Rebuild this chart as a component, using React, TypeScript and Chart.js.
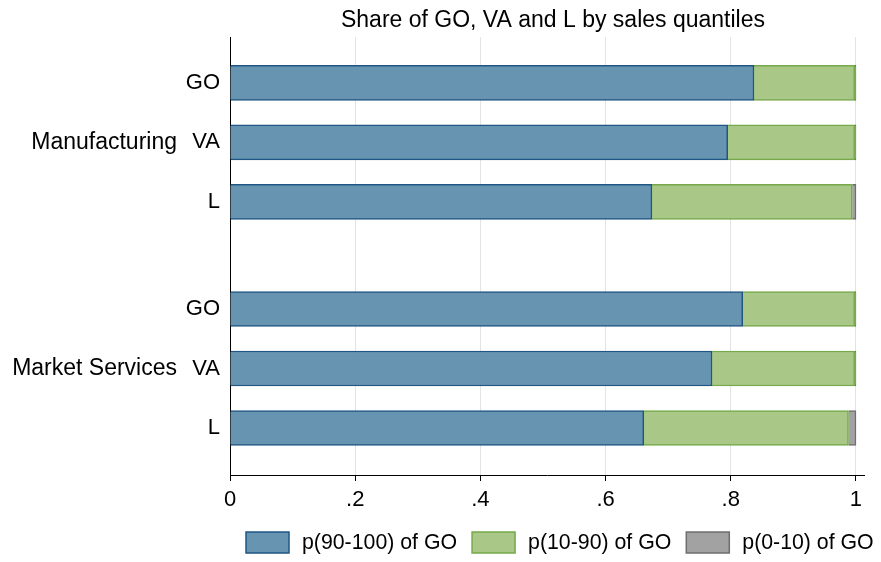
import React, { useEffect, useRef } from "react";
import { Chart, registerables } from "chart.js";

Chart.register(...registerables);

const titleText = "Share of GO, VA and L by sales quantiles";
const rowLabels = ["GO", "VA", "L", "GO", "VA", "L"];
const rowPos = [1, 2, 3, 4.8, 5.8, 6.8];
const sectors = ["Manufacturing", "Market Services"];
const sectorPos = [2, 5.8];
const p90_100 = [0.837, 0.795, 0.674, 0.819, 0.77, 0.661];
const p10_90 = [0.161, 0.203, 0.32, 0.179, 0.228, 0.327];
const p0_10 = [0.002, 0.002, 0.006, 0.002, 0.002, 0.012];
const xTicks = [0, 0.2, 0.4, 0.6, 0.8, 1];
const xTickLabels = ["0", ".2", ".4", ".6", ".8", "1"];
const seriesNames = ["p(90-100) of GO", "p(10-90) of GO", "p(0-10) of GO"];
const fills = ["#6795b1", "#a9c787", "#a2a2a2"];
const borders = ["#1f5683", "#76a94a", "#6e6e6e"];

const FONT = "'Liberation Sans', Arial, sans-serif";

export default function App() {
  const ref = useRef<HTMLCanvasElement | null>(null);
  useEffect(() => {
    if (!ref.current) return;
    const mk = (vals: number[]) => vals.map((v, i) => ({ x: v, y: rowPos[i] }));
    const overlay = {
      id: "overlay",
      afterDraw(chart: any) {
        const ctx = chart.ctx;
        const ca = chart.chartArea;
        const ys = chart.scales.y;
        const xs = chart.scales.x;
        ctx.save();
        ctx.fillStyle = "#000";
        ctx.textBaseline = "middle";
        // title
        ctx.font = `23px ${FONT}`;
        ctx.textAlign = "center";
        const cx = (xs.getPixelForValue(0) + xs.getPixelForValue(1)) / 2 + 10;
        ctx.fillText(titleText, cx, 13);
        // sector labels
        ctx.textAlign = "right";
        sectors.forEach((s, i) => {
          ctx.fillText(s, ca.left - 53, ys.getPixelForValue(sectorPos[i]));
        });
        // legend
        ctx.font = `21.3px ${FONT}`;
        ctx.textAlign = "left";
        let x = 238;
        const yc = 534.5;
        chart.data.datasets.forEach((ds: any) => {
          ctx.fillStyle = ds.backgroundColor;
          ctx.strokeStyle = ds.borderColor;
          ctx.lineWidth = 1.5;
          ctx.fillRect(x, yc - 10.5, 43, 21);
          ctx.strokeRect(x, yc - 10.5, 43, 21);
          x += 43 + 13;
          ctx.fillStyle = "#000";
          ctx.fillText(ds.label, x, yc + 1);
          x += ctx.measureText(ds.label).width + 15;
        });
        ctx.restore();
      },
    };
    const chart = new Chart(ref.current, {
      type: "bar",
      data: {
        datasets: seriesNames.map((name, k) => ({
          label: name,
          data: mk([p90_100, p10_90, p0_10][k]),
          backgroundColor: fills[k],
          borderColor: borders[k],
          borderWidth: 1.5,
          barThickness: 35,
        })),
      },
      options: {
        indexAxis: "y",
        animation: false,
        responsive: false,
        maintainAspectRatio: false,
        layout: { padding: { top: 29, right: 9, left: 0, bottom: 0 } },
        plugins: {
          title: { display: false },
          tooltip: { enabled: false },
          legend: { display: false },
        },
        scales: {
          x: {
            type: "linear",
            stacked: true,
            min: 0,
            max: 1.0128,
            afterBuildTicks: (s: any) => {
              s.ticks = xTicks.map((v) => ({ value: v }));
            },
            afterFit: (s: any) => {
              s.height = 79;
            },
            ticks: {
              color: "#000",
              font: { family: FONT, size: 22 },
              padding: 6,
              maxRotation: 0,
              callback: (_v: any, i: number) => xTickLabels[i],
            },
            grid: { color: "#e3e3e3", tickColor: "#000", tickLength: 6, lineWidth: 1 },
            border: { color: "#000", width: 1 },
          },
          y: {
            type: "linear",
            stacked: true,
            reverse: true,
            offset: false,
            min: 0.23,
            max: 7.59,
            afterBuildTicks: (s: any) => {
              s.ticks = rowPos.map((v) => ({ value: v }));
            },
            afterFit: (s: any) => {
              s.width = 222;
            },
            ticks: {
              color: "#000",
              font: { family: FONT, size: 22 },
              padding: 10,
              callback: (_v: any, i: number) => rowLabels[i],
            },
            grid: { display: false, drawTicks: false, offset: false },
            border: { color: "#000", width: 1 },
          },
        },
      },
      plugins: [overlay],
    });
    return () => chart.destroy();
  }, []);
  return (
    <div style={{ width: 865, height: 546 }}>
      <canvas ref={ref} width={865} height={546} />
    </div>
  );
}
